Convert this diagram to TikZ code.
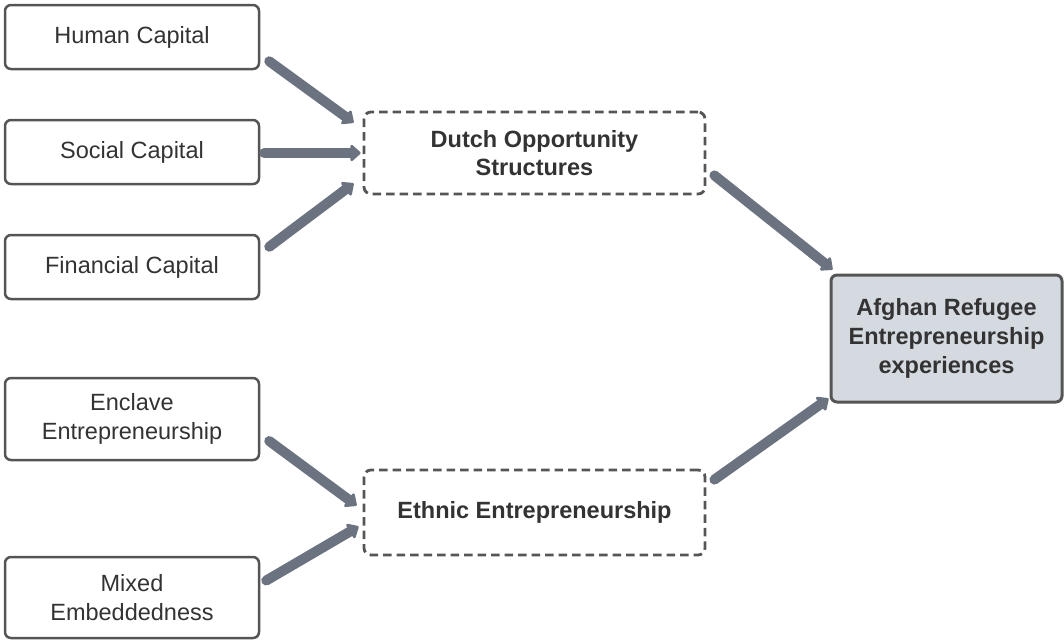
\documentclass[tikz,border=0pt]{standalone}
\usepackage{fontspec}
\setmainfont{Liberation Sans}
\usetikzlibrary{arrows.meta,calc}
\definecolor{boxline}{HTML}{555555}
\definecolor{txt}{HTML}{333333}
\definecolor{flowgray}{HTML}{6B7280}
\definecolor{outfill}{HTML}{D5DAE1}
\begin{document}
\begin{tikzpicture}[x=1pt,y=-1pt,
  factor/.style={draw=boxline,line width=2.5pt,rounded corners=6pt,fill=white,
    minimum width=254pt,align=center,text=txt,
    font=\fontsize{23.5}{28.5}\selectfont,inner sep=0pt},
  concept/.style={draw=boxline,line width=2.8pt,dash pattern=on 8.5pt off 5pt,
    rounded corners=7pt,minimum width=341pt,align=center,text=txt,
    font=\fontsize{23.5}{28}\selectfont\bfseries,inner sep=0pt},
  outcome/.style={draw=boxline,line width=3pt,rounded corners=6pt,fill=outfill,
    minimum width=231pt,minimum height=127pt,align=center,text=txt,
    font=\fontsize{23.5}{29}\selectfont\bfseries,inner sep=0pt},
  flow/.style={draw=flowgray,line width=10pt,line cap=round,
    -{Triangle[length=11pt,width=19pt,round]}}]
\useasboundingbox (0,0) rectangle (1064,641);

% left-hand factors
\node[factor,minimum height=64pt] (human) at (132,37) {Human Capital};
\node[factor,minimum height=64pt] (social) at (132,152) {Social Capital};
\node[factor,minimum height=64pt] (financial) at (132,267) {Financial Capital};
\node[factor,minimum height=82pt] (enclave) at (132,419) {Enclave\\Entrepreneurship};
\node[factor,minimum height=81pt] (mixed) at (132,597.5) {Mixed\\Embeddedness};

% intermediate concepts
\node[concept,minimum height=82pt] (dutch) at (534.5,153) {Dutch Opportunity\\Structures};
\node[concept,minimum height=85pt] (ethnic) at (534.5,512.5) {Ethnic Entrepreneurship};

% outcome
\node[outcome] (afghan) at (946.5,338.5) {Afghan Refugee\\Entrepreneurship\\experiences};

% connectors
\draw[flow] ($(human.south east)+(9,-9)$) -- ($(dutch.north west)+(-9,12)$);
\draw[flow] ($(social.east)+(4,1)$) -- ($(dutch.west)+(-2,0)$);
\draw[flow] ($(financial.north east)+(9,13)$) -- ($(dutch.south west)+(-9,-12)$);
\draw[flow] ($(dutch.south east)+(8,-20)$) -- ($(afghan.north west)+(3,-4)$);
\draw[flow] ($(enclave.east)+(9,22)$) -- ($(ethnic.west)+(-6,-7)$);
\draw[flow] ($(mixed.east)+(6,-17)$) -- ($(ethnic.west)+(-4,14)$);
\draw[flow] ($(ethnic.north east)+(8,11)$) -- ($(afghan.south west)+(-1,-5)$);
\end{tikzpicture}
\end{document}
